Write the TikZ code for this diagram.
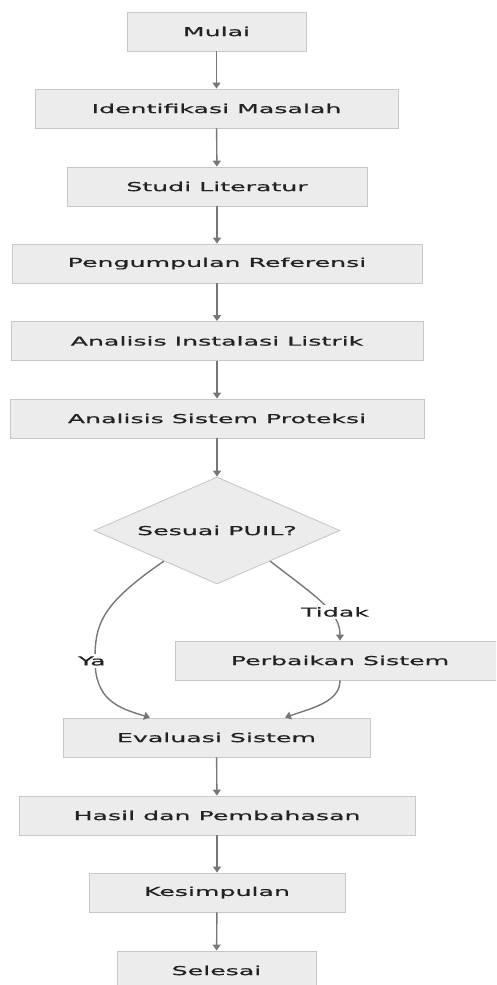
\documentclass[tikz,border=0pt]{standalone}
\usepackage{fontspec}
\setmainfont{DejaVu Sans}[FakeStretch=2.05,FakeBold=0.6]
\usetikzlibrary{arrows.meta,shapes.geometric}
\definecolor{boxfill}{HTML}{ECECEC}
\definecolor{boxline}{HTML}{C8C8C8}
\definecolor{arrowgray}{HTML}{777777}
\definecolor{textgray}{HTML}{222222}

\begin{document}
\begin{tikzpicture}[x=1pt,y=-1pt,
        langkah/.style={draw=boxline,fill=boxfill,line width=0.9pt,minimum height=39pt,
            inner sep=0pt,text=textgray,font=\fontsize{12.3}{14}\selectfont},
        keputusan/.style={diamond,aspect=2.3,draw=boxline,fill=boxfill,line width=0.9pt,
            minimum width=246pt,minimum height=107pt,inner sep=0pt,text=textgray,
            font=\fontsize{12.3}{14}\selectfont},
        panah/.style={-{Triangle[width=8pt,length=6pt]},draw=arrowgray,line width=1.4pt},
        ket/.style={fill=white,inner sep=2pt,text=textgray,font=\fontsize{12.3}{14}\selectfont}]
        \useasboundingbox (0,0) rectangle (496,985);
        \clip (0,0) rectangle (496,985);

        % alur utama
        \node[langkah,minimum width=179pt] (mulai) at (216.5,31.5) {Mulai};
        \node[langkah,minimum width=363pt] (identifikasi) at (216.5,108.5) {Identifikasi Masalah};
        \node[langkah,minimum width=300pt] (studi) at (217,186.5) {Studi Literatur};
        \node[langkah,minimum width=410pt] (referensi) at (217,263.5) {Pengumpulan Referensi};
        \node[langkah,minimum width=412pt] (instalasi) at (217,341) {Analisis Instalasi Listrik};
        \node[langkah,minimum width=414pt] (proteksi) at (217,418.5) {Analisis Sistem Proteksi};
        \node[keputusan] (puil) at (217,530.5) {Sesuai PUIL?};
        \node[langkah,minimum width=330pt] (perbaikan) at (340,660.5) {Perbaikan Sistem};
        \node[langkah,minimum width=307pt] (evaluasi) at (216.5,737.5) {Evaluasi Sistem};
        \node[langkah,minimum width=396pt] (hasil) at (217,815.5) {Hasil dan Pembahasan};
        \node[langkah,minimum width=256pt] (kesimpulan) at (217,892.5) {Kesimpulan};
        \node[langkah,minimum width=199pt] (selesai) at (216.5,970.5) {Selesai};

        \draw[panah] (mulai) -- (identifikasi);
        \draw[panah] (identifikasi) -- (studi);
        \draw[panah] (studi) -- (referensi);
        \draw[panah] (referensi) -- (instalasi);
        \draw[panah] (instalasi) -- (proteksi);
        \draw[panah] (proteksi) -- (puil);

        % cabang
        \coordinate (evkiri) at ([xshift=-66.5pt]evaluasi.north);
        \coordinate (evkanan) at ([xshift=68.5pt]evaluasi.north);
        \draw[panah] (puil.-150) .. controls (100,605) and (95,625) .. (95,660)
            .. controls (95,700) and (118,708) .. (evkiri);
        \node[ket] (ya) at (92,661) {Ya};
        \draw[panah] (puil.-30) .. controls (318,598) and (340,612) .. (perbaikan.north);
        \node[ket] (tidak) at (335,612) {Tidak};
        \draw[panah] (perbaikan.south) .. controls (340,702) and (312,708) .. (evkanan);

        \draw[panah] (evaluasi) -- (hasil);
        \draw[panah] (hasil) -- (kesimpulan);
        \draw[panah] (kesimpulan) -- (selesai);
    \end{tikzpicture}
\end{document}
